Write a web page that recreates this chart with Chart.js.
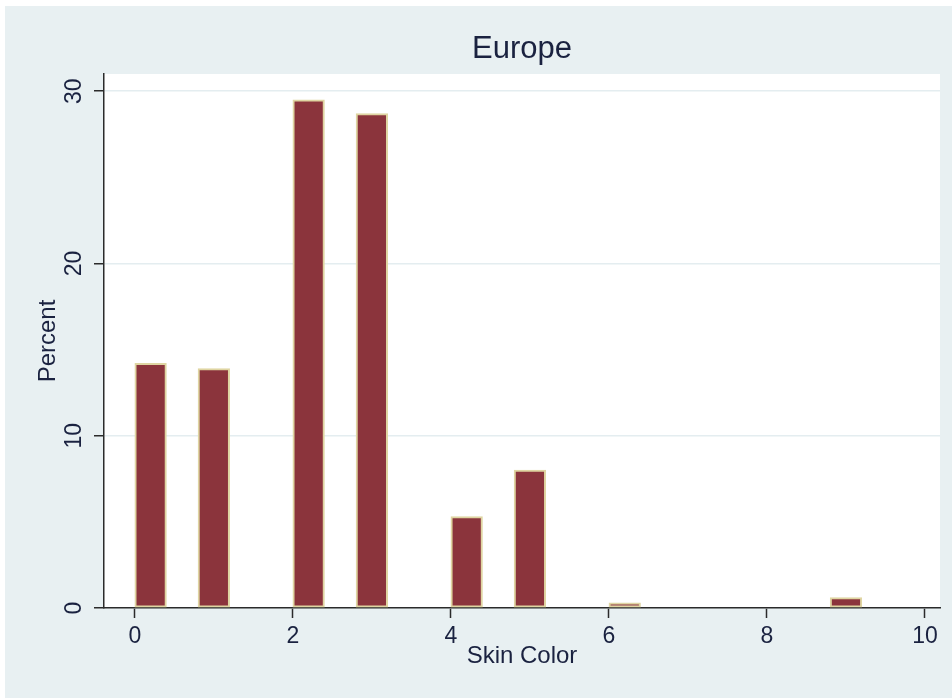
<!DOCTYPE html>
<html>
<head>
<meta charset="utf-8">
<title>Europe - Skin Color</title>
<script src="https://cdn.jsdelivr.net/npm/chart.js@4.4.1/dist/chart.umd.min.js"></script>
<style>
  html, body { margin: 0; padding: 0; background: #fff; }
  #chart { display: block; }
</style>
</head>
<body>
<canvas id="chart" width="952" height="698"></canvas>
<script>
// Skin color histogram for Europe (percent per value, bins of width 0.4)
const skinColor = [0, 1, 2, 3, 4, 5, 6, 9];
const percent = [14.2, 13.9, 29.5, 28.7, 5.3, 8.0, 0.3, 0.6];
const xTicks = [0, 2, 4, 6, 8, 10];
const yTicks = [0, 10, 20, 30];
const binWidth = 0.4;
const binCount = 25;

const FONT = "'Liberation Sans', Arial, sans-serif";
const TEXT = '#1a2240';
const AXIS = '#2b2b2b';

// one entry per bin so every bar gets the full bin width
const bins = [];
for (let k = 0; k < binCount; k++) {
  bins.push({ x: (k + 0.5) * binWidth, y: null });
}
skinColor.forEach((v, i) => {
  const k = Math.floor(v / binWidth + 1e-9);
  bins[k].y = percent[i];
});

// graph region + white plot region
const background = {
  id: 'background',
  beforeDraw(chart) {
    const { ctx, width, height, chartArea } = chart;
    ctx.save();
    ctx.fillStyle = '#ffffff';
    ctx.fillRect(0, 0, width, height);
    ctx.fillStyle = '#e8f0f2';
    ctx.fillRect(5, 6, width - 5, height - 6);
    ctx.fillStyle = '#ffffff';
    ctx.fillRect(chartArea.left, chartArea.top,
      chartArea.right - chartArea.left, chartArea.bottom - chartArea.top);
    ctx.restore();
  }
};

new Chart(document.getElementById('chart'), {
  type: 'bar',
  data: {
    datasets: [{
      label: 'Percent',
      data: bins,
      backgroundColor: '#8b343c',
      borderColor: '#dfd5a2',
      borderWidth: 2,
      borderSkipped: false,
      barPercentage: 1,
      categoryPercentage: 1,
      xAxisID: 'x',
      yAxisID: 'y'
    }]
  },
  options: {
    responsive: false,
    animation: false,
    layout: { padding: { left: 0, right: 12, top: 0, bottom: 0 } },
    plugins: {
      legend: { display: false },
      tooltip: { enabled: false }
    },
    scales: {
      x: {
        type: 'linear',
        position: 'bottom',
        offset: false,
        min: -0.39,
        max: 10.19,
        afterBuildTicks: axis => { axis.ticks = xTicks.map(v => ({ value: v })); },
        afterFit: axis => { axis.height = 90; },
        grid: {
          display: true,
          offset: false,
          drawOnChartArea: false,
          drawTicks: true,
          tickLength: 10,
          tickColor: AXIS,
          tickWidth: 1.5
        },
        border: { display: true, color: AXIS, width: 1.5 },
        ticks: {
          color: TEXT,
          font: { family: FONT, size: 23 },
          padding: 5,
          maxRotation: 0
        },
        title: {
          display: true,
          text: 'Skin Color',
          color: TEXT,
          font: { family: FONT, size: 24 },
          padding: { top: 0, bottom: 27.6 }
        }
      },
      top: {
        type: 'linear',
        position: 'top',
        min: 0,
        max: 1,
        afterFit: axis => { axis.height = 74; },
        grid: { display: false },
        border: { display: false },
        ticks: { display: false },
        title: {
          display: true,
          text: 'Europe',
          color: TEXT,
          font: { family: FONT, size: 31 },
          padding: { top: 30.8, bottom: 0 }
        }
      },
      y: {
        type: 'linear',
        position: 'left',
        min: 0,
        max: 31,
        afterBuildTicks: axis => { axis.ticks = yTicks.map(v => ({ value: v })); },
        afterFit: axis => { axis.width = 104; },
        grid: {
          color: '#e4edf0',
          lineWidth: 1.5,
          drawTicks: true,
          tickLength: 10,
          tickColor: AXIS,
          tickWidth: 1.5
        },
        border: { display: true, color: AXIS, width: 1.5 },
        ticks: {
          color: TEXT,
          font: { family: FONT, size: 23 },
          padding: 7,
          minRotation: 90,
          maxRotation: 90,
          crossAlign: 'center'
        },
        title: {
          display: true,
          text: 'Percent',
          color: TEXT,
          font: { family: FONT, size: 24 },
          padding: { top: 33.6, bottom: 0 }
        }
      }
    }
  },
  plugins: [background]
});
</script>
</body>
</html>
